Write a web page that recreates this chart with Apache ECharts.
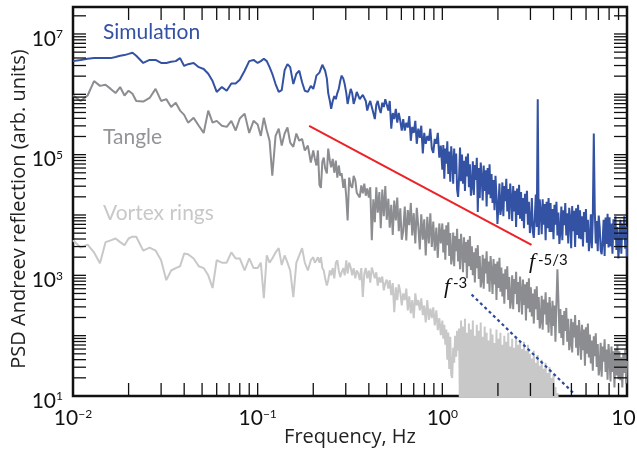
<!DOCTYPE html>
<html>
<head>
<meta charset="utf-8">
<script src="https://cdn.jsdelivr.net/npm/echarts@6/dist/echarts.min.js"></script>
<style>
html, body { margin: 0; padding: 0; background: #fff; }
#chart { width: 637px; height: 462px; }
</style>
</head>
<body>
<div id="chart"></div>
<script>
// frequency grid (Hz) the three spectra were read at
var freq = [
  0.010, 0.011, 0.012, 0.013, 0.014, 0.015, 0.016, 0.017, 0.018, 0.019,
  0.020, 0.021, 0.022, 0.024, 0.026, 0.028, 0.030, 0.032, 0.034, 0.036,
  0.038, 0.040, 0.042, 0.045, 0.048, 0.051, 0.054, 0.057, 0.060, 0.064,
  0.068, 0.072, 0.076, 0.080, 0.085, 0.090, 0.095,
  0.100, 0.104, 0.108, 0.112, 0.116, 0.120, 0.125, 0.130, 0.135, 0.140,
  0.145, 0.150, 0.156, 0.162, 0.168, 0.174, 0.180, 0.187, 0.194,
  0.200, 0.204, 0.208, 0.212, 0.216, 0.220, 0.224, 0.228, 0.232, 0.237,
  0.241, 0.246, 0.250, 0.255, 0.260, 0.265, 0.270, 0.275, 0.280, 0.285,
  0.291, 0.296, 0.302, 0.307, 0.313, 0.319, 0.325, 0.331, 0.338, 0.344,
  0.351, 0.357, 0.364, 0.371, 0.378, 0.385, 0.392, 0.400, 0.407, 0.415,
  0.423, 0.431, 0.439, 0.447, 0.456, 0.464, 0.473, 0.482, 0.491, 0.500,
  0.510, 0.519, 0.529, 0.539, 0.549, 0.560, 0.570, 0.581, 0.592, 0.603,
  0.614, 0.626, 0.638, 0.650, 0.662, 0.675, 0.687, 0.700, 0.714, 0.727,
  0.741, 0.755, 0.769, 0.784, 0.798, 0.813, 0.829, 0.845, 0.861, 0.877,
  0.893, 0.910, 0.928, 0.945, 0.963, 0.981,
  1.000, 1.012, 1.025, 1.038, 1.051, 1.064, 1.077, 1.090, 1.104, 1.117,
  1.131, 1.145, 1.159, 1.173, 1.188, 1.202, 1.217, 1.232, 1.247, 1.263,
  1.278, 1.294, 1.310, 1.326, 1.343, 1.359, 1.376, 1.393, 1.410, 1.428,
  1.445, 1.463, 1.481, 1.500, 1.518, 1.537, 1.556, 1.575, 1.594, 1.614,
  1.634, 1.654, 1.675, 1.695, 1.716, 1.737, 1.759, 1.780, 1.802, 1.825,
  1.847, 1.870, 1.893, 1.916, 1.940, 1.964, 1.988, 2.013, 2.038, 2.063,
  2.088, 2.114, 2.140, 2.166, 2.193, 2.220, 2.247, 2.275, 2.303, 2.331,
  2.360, 2.389, 2.419, 2.448, 2.479, 2.509, 2.540, 2.572, 2.603, 2.635,
  2.668, 2.701, 2.734, 2.768, 2.802, 2.837, 2.872, 2.907, 2.943, 2.979,
  3.016, 3.053, 3.091, 3.129, 3.168, 3.207, 3.246, 3.286, 3.327, 3.368,
  3.410, 3.452, 3.494, 3.537, 3.581, 3.625, 3.670, 3.715, 3.761, 3.807,
  3.854, 3.902, 3.950, 3.999, 4.048, 4.098, 4.148, 4.200, 4.251, 4.304,
  4.357, 4.411, 4.465, 4.520, 4.576, 4.632, 4.690, 4.747, 4.806, 4.865,
  4.925, 4.986, 5.047, 5.110, 5.173, 5.236, 5.301, 5.366, 5.433, 5.500,
  5.567, 5.636, 5.706, 5.776, 5.847, 5.919, 5.992, 6.066, 6.141, 6.217,
  6.293, 6.371, 6.450, 6.529, 6.610, 6.691, 6.774, 6.857, 6.942, 7.028,
  7.114, 7.202, 7.291, 7.381, 7.472, 7.564, 7.657, 7.752, 7.847, 7.944,
  8.042, 8.141, 8.242, 8.343, 8.446, 8.551, 8.656, 8.763, 8.871, 8.981,
  9.091, 9.204, 9.317, 9.432, 9.549, 9.666, 9.786, 9.906, 10.00
];

// log10 of the PSD, one per frequency
var simLog = [
  6.55, 6.57, 6.59, 6.60, 6.60, 6.60, 6.60, 6.62, 6.64, 6.65,
  6.67, 6.69, 6.64, 6.52, 6.57, 6.57, 6.52, 6.52, 6.54, 6.55,
  6.60, 6.47, 6.50, 6.52, 6.45, 6.42, 6.34, 6.22, 6.04, 6.12,
  6.06, 6.18, 6.18, 6.24, 6.39, 6.55, 6.57,
  6.52, 6.55, 6.59, 6.55, 6.45, 6.34, 6.17, 6.04, 6.07, 6.40,
  6.50, 6.45, 6.17, 6.34, 6.39, 6.20, 6.06, 6.04, 6.14,
  6.09, 6.19, 6.31, 6.34, 6.36, 6.39, 6.49, 6.52, 6.39, 6.26,
  6.02, 5.89, 5.76, 5.89, 5.97, 5.92, 6.02, 6.09, 6.22, 6.31,
  6.26, 6.17, 6.02, 5.84, 5.97, 6.09, 6.02, 5.84, 5.94, 6.04,
  6.01, 5.92, 5.89, 5.99, 6.02, 5.89, 5.73, 5.83, 5.89, 5.79,
  5.69, 5.59, 5.83, 5.89, 5.76, 5.69, 5.86, 5.79, 5.92, 5.83,
  5.73, 5.89, 5.43, 5.69, 5.59, 5.76, 5.53, 5.69, 5.56, 5.40,
  5.59, 5.40, 5.53, 5.45, 5.64, 5.23, 5.46, 5.36, 5.56, 5.18,
  5.43, 5.28, 5.48, 5.02, 5.36, 5.18, 5.31, 5.23, 5.43, 5.10,
  5.03, 5.26, 5.18, 5.36, 4.95, 5.15,
  4.75, 5.16, 4.60, 5.10, 4.85, 5.22, 4.68, 5.05, 4.55, 5.14,
  4.90, 4.52, 5.10, 4.68, 5.02, 4.42, 4.30, 4.62, 5.12, 4.56,
  5.00, 4.52, 4.90, 4.40, 4.97, 4.64, 5.02, 4.46, 4.84, 4.32,
  4.48, 4.89, 4.33, 4.83, 4.58, 4.95, 4.05, 4.78, 4.28, 4.87,
  4.62, 4.24, 4.82, 4.40, 4.74, 4.14, 4.78, 4.34, 4.84, 4.28,
  4.68, 4.20, 4.58, 4.08, 4.65, 4.32, 3.85, 4.14, 4.52, 4.00,
  4.13, 4.54, 3.98, 4.48, 4.23, 4.60, 4.06, 4.43, 3.93, 4.52,
  4.28, 3.90, 4.48, 4.06, 4.40, 3.80, 4.44, 4.00, 4.50, 3.94,
  4.38, 3.90, 4.28, 3.78, 4.35, 4.02, 4.40, 3.84, 4.22, 3.70,
  3.87, 4.28, 3.72, 3.62, 3.97, 4.34, 3.80, 5.92, 3.67, 4.26,
  4.06, 3.68, 4.26, 3.84, 4.18, 3.58, 4.22, 3.78, 4.28, 3.72,
  4.20, 3.72, 4.10, 3.60, 4.17, 3.84, 4.22, 3.66, 4.04, 3.52,
  3.73, 4.14, 3.58, 4.08, 3.83, 4.20, 3.66, 4.03, 3.53, 4.12,
  3.95, 3.45, 4.15, 3.73, 4.07, 3.47, 4.11, 3.67, 4.17, 3.61,
  4.08, 3.60, 3.98, 3.48, 4.05, 3.72, 4.10, 3.54, 3.92, 3.40,
  3.60, 4.01, 3.45, 3.95, 5.35, 4.07, 3.53, 3.90, 3.40, 3.99,
  3.80, 3.42, 3.35, 3.58, 3.92, 3.32, 3.96, 3.52, 4.02, 3.46,
  3.96, 3.48, 3.86, 3.36, 3.93, 3.60, 3.98, 3.42, 3.80, 3.28,
  3.51, 3.92, 3.36, 3.86, 3.61, 3.98, 3.44, 3.81, 3.31
];

var tangleLog = [
  5.98, 5.89, 5.98, 6.22, 6.14, 6.16, 6.09, 6.02, 6.12, 5.98,
  6.06, 6.01, 5.89, 5.88, 5.94, 6.09, 5.89, 5.92, 5.79, 5.86,
  5.73, 5.66, 5.53, 5.61, 5.48, 5.36, 5.73, 5.53, 5.56, 5.48,
  5.46, 5.56, 5.40, 5.60, 5.68, 5.36, 5.56,
  5.50, 5.31, 5.61, 5.40, 5.23, 4.65, 5.31, 5.43, 5.15, 5.35,
  5.45, 5.20, 5.13, 5.35, 5.23, 5.26, 5.07, 5.15, 4.87,
  5.07, 4.93, 4.82, 5.07, 4.50, 4.45, 4.88, 4.95, 4.77, 4.69,
  5.10, 4.90, 4.79, 4.93, 4.70, 4.90, 4.62, 4.82, 4.65, 4.69,
  4.45, 4.60, 4.29, 3.91, 4.62, 4.49, 4.45, 4.65, 4.57, 4.37,
  4.40, 4.29, 4.49, 4.36, 4.52, 4.32, 4.44, 4.29, 4.46, 3.58,
  4.26, 3.88, 4.46, 4.04, 4.38, 3.78, 4.42, 3.98, 4.48, 3.92,
  4.27, 3.79, 4.17, 3.67, 4.24, 3.91, 4.29, 3.73, 4.11, 3.59,
  3.73, 4.14, 3.58, 4.08, 3.83, 4.20, 3.66, 4.03, 3.53, 4.12,
  3.81, 3.43, 4.01, 3.59, 3.93, 3.33, 3.97, 3.53, 4.03, 3.47,
  3.89, 3.41, 3.79, 3.29, 3.86, 3.53,
  3.86, 3.38, 3.76, 3.26, 3.83, 3.50, 3.88, 3.32, 3.70, 3.18,
  3.30, 3.71, 3.15, 3.65, 3.40, 3.77, 3.23, 3.60, 3.10, 3.69,
  3.43, 3.05, 3.63, 3.21, 3.55, 2.95, 3.59, 3.15, 3.65, 3.09,
  3.48, 3.00, 3.38, 2.88, 3.45, 3.12, 3.50, 2.94, 3.32, 2.80,
  2.93, 3.34, 2.78, 3.28, 3.03, 3.40, 2.86, 3.23, 2.73, 3.32,
  3.07, 2.69, 3.27, 2.85, 3.19, 2.59, 3.23, 2.79, 3.29, 2.73,
  3.13, 2.65, 3.03, 2.53, 3.10, 2.77, 3.15, 2.59, 2.97, 2.45,
  2.59, 3.00, 2.44, 2.94, 2.69, 3.06, 2.52, 2.89, 2.39, 2.98,
  2.73, 2.35, 2.93, 2.51, 2.85, 2.25, 2.89, 2.45, 2.95, 2.39,
  2.80, 2.32, 2.70, 2.20, 2.77, 2.44, 2.82, 2.26, 2.64, 2.12,
  2.25, 2.66, 2.10, 2.60, 2.35, 2.72, 2.18, 2.55, 2.05, 2.64,
  2.38, 2.00, 2.58, 2.16, 2.50, 1.90, 2.54, 3.10, 2.60, 2.04,
  2.44, 1.96, 2.34, 1.84, 2.41, 2.08, 2.46, 1.90, 2.28, 1.76,
  1.87, 2.28, 1.72, 2.22, 1.97, 2.34, 1.80, 2.17, 1.67, 2.26,
  1.98, 1.60, 2.18, 1.76, 2.10, 1.50, 2.14, 1.70, 2.20, 1.64,
  2.02, 1.54, 1.92, 1.42, 1.99, 1.66, 2.04, 1.48, 1.86, 1.34,
  1.47, 1.88, 1.32, 1.82, 1.57, 1.94, 1.40, 1.77, 1.27, 1.86,
  1.62, 1.24, 1.82, 1.40, 1.74, 1.14, 1.78, 1.34, 1.84, 1.28,
  1.74, 1.26, 1.64, 1.14, 1.71, 1.38, 1.76, 1.20, 1.58
];

// vortex rings drop below the axis floor above ~4.4 Hz
var vortexLog = [
  3.58, 3.46, 3.51, 3.38, 3.20, 3.55, 3.58, 3.61, 3.55, 3.50,
  3.61, 3.64, 3.64, 3.41, 3.46, 3.41, 3.25, 2.92, 3.08, 3.12,
  3.15, 3.36, 3.35, 3.28, 3.15, 3.12, 3.00, 2.79, 3.25, 3.21,
  3.21, 3.38, 3.28, 3.28, 3.08, 3.28, 3.12,
  3.12, 3.21, 2.62, 3.33, 3.21, 3.28, 3.38, 3.45, 3.17, 3.33,
  3.21, 3.08, 2.64, 3.21, 3.33, 3.45, 3.21, 3.08, 3.25,
  3.30, 3.21, 3.25, 3.30, 3.21, 3.30, 3.12, 3.08, 2.95, 2.83,
  2.92, 3.08, 3.00, 3.12, 2.95, 3.21, 3.25, 3.08, 2.97, 3.05,
  3.12, 3.00, 3.25, 3.03, 3.21, 3.13, 3.00, 3.12, 2.95, 3.08,
  3.03, 2.92, 3.12, 2.64, 3.03, 3.12, 2.95, 3.08, 2.88, 3.13,
  3.13, 2.95, 3.05, 2.83, 2.97, 2.88, 2.98, 2.75, 2.87, 2.93,
  2.78, 2.92, 2.67, 2.87, 2.39, 2.80, 2.59, 2.85, 2.72, 2.50,
  2.70, 2.59, 2.78, 2.42, 2.65, 2.37, 2.59, 2.29, 2.70, 2.50,
  2.59, 2.42, 2.62, 2.34, 2.50, 2.22, 2.59, 2.26, 2.45, 2.29,
  2.47, 2.17, 2.42, 2.09, 2.29, 2.01,
  2.25, 1.95, 2.18, 1.85, 2.10, 1.60, 2.05, 1.45, 1.98, 1.35,
  1.30, 1.80, 1.55, 2.00, 1.65, 2.08, 1.75, 2.12, 0.60, 2.25,
  0.50, 2.15, 0.70, 2.28, 0.40, 2.05, 0.60, 2.20, 0.50, 2.10,
  0.70, 2.25, 0.40, 2.00, 0.60, 2.18, 0.50, 2.08, 0.70, 2.22,
  0.40, 1.98, 0.60, 2.15, 0.50, 2.05, 0.70, 1.92, 0.40, 2.12,
  0.60, 2.02, 0.50, 1.88, 0.70, 2.10, 0.40, 1.95, 0.60, 2.05,
  0.50, 1.85, 0.70, 2.00, 0.40, 1.90, 0.60, 2.05, 0.50, 1.82,
  0.70, 1.95, 0.40, 1.80, 0.60, 1.98, 0.50, 1.85, 0.70, 1.92,
  0.40, 1.78, 0.60, 1.90, 0.50, 1.75, 0.70, 1.85, 0.40, 1.70,
  0.60, 1.62, 0.50, 1.75, 0.70, 1.55, 0.40, 1.68, 0.60, 1.50,
  0.50, 1.60, 0.70, 1.45, 0.40, 1.55, 0.60, 1.38, 0.50, 1.48,
  0.70, 1.30, 0.40, 1.35, 0.60, 1.15, 0.50, 1.05, 0.40, 0.80,
  0.40, 0.60, 0.30
];

// guide lines: Kolmogorov f^-5/3 and f^-3
var kolmoF = [0.19, 3.04];
var kolmoP = [3.0e5, 3.2e3];
var cubeF = [1.44, 5.1];
var cubeP = [480, 11.4];

// axes
var X_MIN = 0.01, X_MAX = 10;
var Y_MIN = 10, Y_MAX = 2.8e7;
var xDecades = [0.01, 0.1, 1];
var yDecades = [10, 100, 1e3, 1e4, 1e5, 1e6, 1e7];
var tickSteps = [1, 2, 3, 4, 5, 6, 7, 8, 9];
var TICK = 13;

function pairs(fs, vals, isLog) {
  var out = [];
  for (var i = 0; i < vals.length; i++) {
    out.push([fs[i], isLog ? Math.pow(10, vals[i]) : vals[i]]);
  }
  return out;
}

var xTicks = [], yTicks = [];
xDecades.forEach(function (d) {
  tickSteps.forEach(function (s) { xTicks.push([d * s, Y_MIN]); });
});
xTicks.push([X_MAX, Y_MIN]);
yDecades.forEach(function (d) {
  tickSteps.forEach(function (s) { if (d * s <= Y_MAX) yTicks.push([X_MIN, d * s]); });
});

function powLabel(v) {
  var e = Math.log10(v);
  var r = Math.round(e);
  if (Math.abs(e - r) > 0.01) return '';
  return '{b|10}{s|' + String(r).replace('-', '\u2212') + '}';
}

var tickStyle = { stroke: '#111', lineWidth: 1.3 };
var labelRich = {
  b: { fontFamily: 'Lato', fontSize: 21, color: '#111' },
  s: { fontFamily: 'Lato', fontSize: 12, color: '#111', verticalAlign: 'top' }
};
var labelFont = '21px Lato';

var chart = echarts.init(document.getElementById('chart'));
var option = {
  animation: false,
  backgroundColor: '#fff',
  grid: {
    left: 73, top: 7, right: 10, bottom: 66,
    containLabel: false, outerBoundsMode: 'none',
    show: true, borderColor: '#111', borderWidth: 2.5
  },
  xAxis: {
    type: 'log', logBase: 10, min: X_MIN, max: X_MAX,
    axisLine: { show: false }, axisTick: { show: false }, splitLine: { show: false },
    axisLabel: { margin: 12, formatter: powLabel, rich: labelRich }
  },
  yAxis: {
    type: 'log', logBase: 10, min: Y_MIN, max: Y_MAX,
    axisLine: { show: false }, axisTick: { show: false }, splitLine: { show: false },
    axisLabel: {
      margin: 10, padding: [10, 0, 0, 0],
      formatter: function (v) {
        var e = Math.round(Math.log10(v));
        if (e % 2 === 0) return '';
        return powLabel(v);
      },
      rich: labelRich
    }
  },
  graphic: [
    { type: 'text', x: 350, y: 427,
      style: { text: 'Frequency, Hz', fill: '#222', font: '20px "Open Sans"', align: 'center', verticalAlign: 'top' } },
    { type: 'text', x: 19, y: 209, rotation: Math.PI / 2,
      style: { text: 'PSD Andreev reflection (arb. units)', fill: '#222', font: '20px "Open Sans"', align: 'center', verticalAlign: 'middle' } },
    { type: 'text', x: 103, y: 22, style: { text: 'Simulation', fill: '#3452a3', font: labelFont, align: 'left', verticalAlign: 'top' } },
    { type: 'text', x: 103, y: 127, style: { text: 'Tangle', fill: '#939496', font: labelFont, align: 'left', verticalAlign: 'top' } },
    { type: 'text', x: 103, y: 203, style: { text: 'Vortex rings', fill: '#c8c8c8', font: labelFont, align: 'left', verticalAlign: 'top' } },
    { type: 'text', x: 529, y: 251, style: { text: 'f', fill: '#111', font: 'italic 22px "Liberation Serif"', align: 'left', verticalAlign: 'top' } },
    { type: 'text', x: 538, y: 253, style: { text: '-5/3', fill: '#111', font: '15px Lato', align: 'left', verticalAlign: 'top' } },
    { type: 'text', x: 444, y: 276, style: { text: 'f', fill: '#111', font: 'italic 22px "Liberation Serif"', align: 'left', verticalAlign: 'top' } },
    { type: 'text', x: 453, y: 276, style: { text: '-3', fill: '#111', font: '15px Lato', align: 'left', verticalAlign: 'top' } }
  ],
  series: [
    {
      name: 'Vortex rings', type: 'line', z: 2, showSymbol: false, symbol: 'none',
      data: pairs(freq, vortexLog, true),
      lineStyle: { color: '#c8c8c8', width: 2 }
    },
    {
      name: 'Tangle', type: 'line', z: 3, showSymbol: false, symbol: 'none',
      data: pairs(freq, tangleLog, true),
      lineStyle: { color: '#8b8d90', width: 2 }
    },
    {
      name: 'Simulation', type: 'line', z: 4, showSymbol: false, symbol: 'none',
      data: pairs(freq, simLog, true),
      lineStyle: { color: '#3452a3', width: 2 }
    },
    {
      name: 'f^-5/3', type: 'line', z: 5, showSymbol: false, symbol: 'none',
      data: pairs(kolmoF, kolmoP, false),
      lineStyle: { color: '#ec2227', width: 2 }
    },
    {
      name: 'f^-3', type: 'line', z: 5, showSymbol: false, symbol: 'none',
      data: pairs(cubeF, cubeP, false),
      lineStyle: { color: '#2c4b9e', width: 2.2, type: [3, 3] }
    },
    {
      type: 'custom', z: 6, silent: true, clip: false,
      data: xTicks,
      renderItem: function (params, api) {
        var v = api.value(0);
        var b = api.coord([v, Y_MIN]);
        var t = api.coord([v, Y_MAX]);
        return { type: 'group', children: [
          { type: 'line', shape: { x1: b[0], y1: b[1], x2: b[0], y2: b[1] - TICK }, style: tickStyle },
          { type: 'line', shape: { x1: t[0], y1: t[1], x2: t[0], y2: t[1] + TICK }, style: tickStyle }
        ] };
      }
    },
    {
      type: 'custom', z: 6, silent: true, clip: false,
      data: yTicks,
      renderItem: function (params, api) {
        var v = api.value(1);
        var l = api.coord([X_MIN, v]);
        var r = api.coord([X_MAX, v]);
        return { type: 'group', children: [
          { type: 'line', shape: { x1: l[0], y1: l[1], x2: l[0] + TICK, y2: l[1] }, style: tickStyle },
          { type: 'line', shape: { x1: r[0], y1: r[1], x2: r[0] - TICK, y2: r[1] }, style: tickStyle }
        ] };
      }
    }
  ]
};
chart.setOption(option);
</script>
</body>
</html>
